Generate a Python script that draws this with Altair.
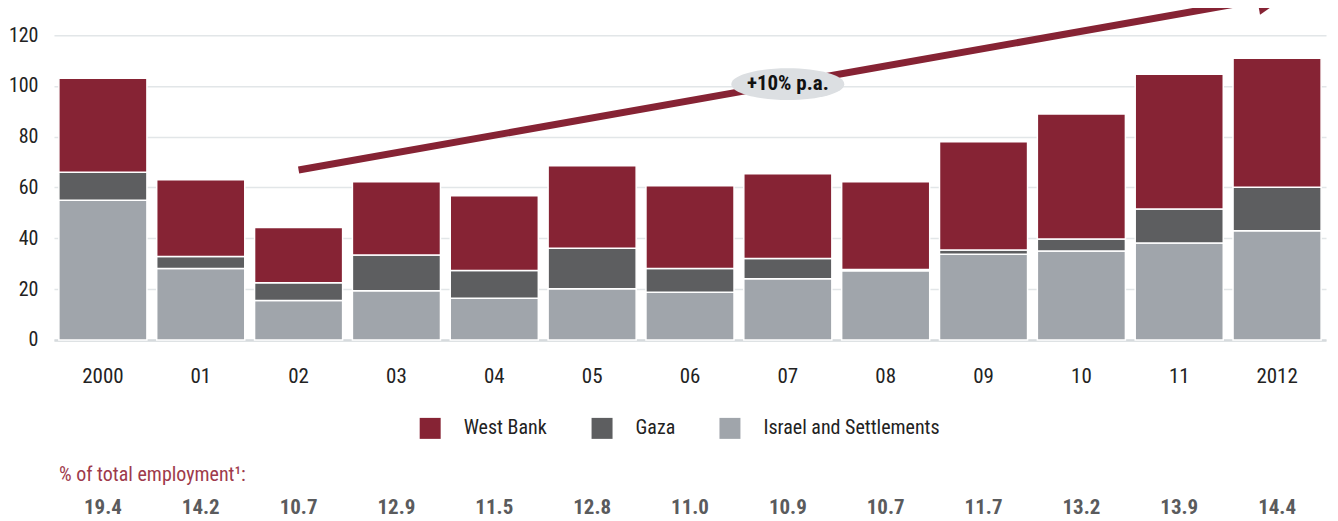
import altair as alt
import pandas as pd

# ---------------- data ----------------
years = ["2000", "01", "02", "03", "04", "05", "06", "07", "08", "09", "10", "11", "2012"]
israel = [55.0, 28.1, 15.5, 19.4, 16.4, 20.2, 18.8, 24.1, 27.2, 33.7, 35.0, 38.2, 43.0]
gaza = [11.0, 4.7, 7.0, 14.0, 10.9, 15.9, 9.3, 8.0, 0.5, 1.7, 4.7, 13.3, 17.1]
west_bank = [37.0, 30.3, 21.8, 28.9, 29.5, 32.5, 32.6, 33.3, 34.6, 42.6, 49.2, 53.1, 50.8]
share_total = ["19.4", "14.2", "10.7", "12.9", "11.5", "12.8", "11.0",
               "10.9", "10.7", "11.7", "13.2", "13.9", "14.4"]
series_names = ["West Bank", "Gaza", "Israel and Settlements"]
series_colors = ["#862334", "#5d5e60", "#a0a5ab"]
y_ticks = [0, 20, 40, 60, 80, 100, 120]

# trend arrow (x in year-index units, y in chart units)
trend_x = [2.0, 11.8]
trend_y = [66.9, 133.8]
head_x = [11.96]
head_y = [134.9]
label_x = [7.0]
label_y = [100.7]
label_text = ["+10% p.a."]
footnote = "% of total employment\u00b9:"

FONT = "Liberation Sans Narrow, Roboto Condensed, DejaVu Sans Condensed, Arial Narrow, sans-serif"
Y_DOMAIN = [0, 130.6]
W, H = 1273, 332

rows = []
for i, yr in enumerate(years):
    rows.append({"year": yr, "series": "Israel and Settlements", "value": israel[i], "ord": 0})
    rows.append({"year": yr, "series": "Gaza", "value": gaza[i], "ord": 1})
    rows.append({"year": yr, "series": "West Bank", "value": west_bank[i], "ord": 2})
bars_df = pd.DataFrame(rows)
share_df = pd.DataFrame({"year": years, "share": share_total})

x_band = alt.X("year:N", sort=years,
               scale=alt.Scale(paddingInner=0.1, paddingOuter=0.05),
               axis=alt.Axis(title=None, labelAngle=0, ticks=False, labelFontSize=21,
                             labelColor="#222222", labelFont=FONT, labelPadding=43,
                             labelBaseline="alphabetic", domainColor="#d6dadd",
                             domainWidth=2.5, grid=False))

y_scale = alt.Scale(domain=Y_DOMAIN, nice=False, zero=True)

bars = alt.Chart(bars_df).mark_bar(stroke="white", strokeWidth=1.5).encode(
    x=x_band,
    y=alt.Y("value:Q", stack="zero", scale=y_scale, title=None,
            axis=alt.Axis(title=None, values=y_ticks, ticks=False, domain=False,
                          labelFontSize=20, labelColor="#222222", labelFont=FONT,
                          labelPadding=16, gridColor="#e2e6e8", gridWidth=1.5)),
    color=alt.Color("series:N",
                    scale=alt.Scale(domain=series_names, range=series_colors),
                    legend=alt.Legend(title=None, orient="none", direction="horizontal",
                                      legendX=366, legendY=410, symbolType="square",
                                      symbolSize=441, symbolStrokeWidth=0,
                                      labelFontSize=20, labelFont=FONT, labelLimit=500,
                                      labelColor="#222222", labelOffset=23,
                                      columnPadding=44, padding=0)),
    order=alt.Order("ord:Q", sort="ascending"),
)

shares = alt.Chart(share_df).mark_text(
    font=FONT, fontSize=21, fontWeight="bold", color="#5a5b5d", baseline="alphabetic"
).encode(
    x=alt.X("year:N", sort=years),
    y=alt.value(506),
    text="share:N",
)

foot = alt.Chart(pd.DataFrame({"t": [footnote]})).mark_text(
    font=FONT, fontSize=20, color="#9e3a4b", align="left", baseline="middle"
).encode(x=alt.value(5), y=alt.value(467), text="t:N")

base_layer = alt.layer(bars, shares, foot)

x_lin = alt.Scale(domain=[-0.5, 12.5], nice=False, zero=False)

trend_df = pd.DataFrame({"xi": trend_x, "value": trend_y})
line = alt.Chart(trend_df).mark_line(color="#862334", strokeWidth=7, strokeCap="butt").encode(
    x=alt.X("xi:Q", scale=x_lin, axis=None),
    y=alt.Y("value:Q", scale=y_scale, title=None),
)
head = alt.Chart(pd.DataFrame({"xi": head_x, "value": head_y})).mark_point(
    shape="M1,0L-1,-0.94L-1,0.94Z", size=1024, filled=True, opacity=1,
    color="#862334", angle=350
).encode(
    x=alt.X("xi:Q", scale=x_lin, axis=None),
    y=alt.Y("value:Q", scale=y_scale, title=None),
)
lab_df = pd.DataFrame({"xi": label_x, "value": label_y, "t": label_text})
oval = alt.Chart(lab_df).mark_point(
    shape="M-1,0A1,0.28 0 1,0 1,0A1,0.28 0 1,0 -1,0Z", size=12769, filled=True,
    opacity=1, color="#dcdfe2"
).encode(
    x=alt.X("xi:Q", scale=x_lin, axis=None),
    y=alt.Y("value:Q", scale=y_scale, title=None),
)
lab = alt.Chart(lab_df).mark_text(
    font=FONT, fontSize=21, fontWeight="bold", color="#111111", baseline="middle"
).encode(
    x=alt.X("xi:Q", scale=x_lin, axis=None),
    y=alt.Y("value:Q", scale=y_scale, title=None),
    text="t:N",
)
arrow_layer = alt.layer(line, head, oval, lab)

chart = alt.layer(base_layer, arrow_layer).resolve_scale(x="independent").properties(
    width=W, height=H,
    autosize=alt.AutoSizeParams(type="none"),
    padding={"left": 46, "top": 0, "right": 4, "bottom": 180},
).configure(font=FONT).configure_view(stroke=None, strokeWidth=0)

chart.save("out.html", embed_options={"renderer": "svg", "actions": False})
